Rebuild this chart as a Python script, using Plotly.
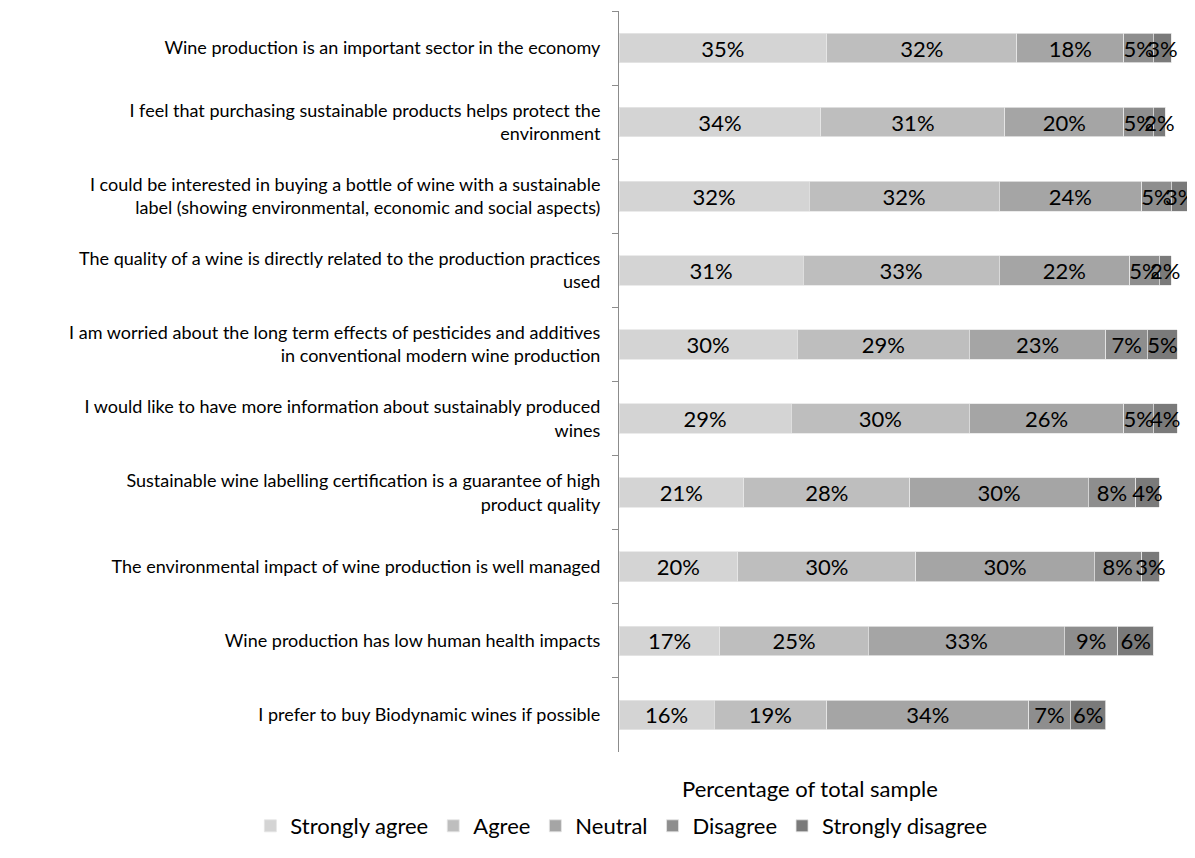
import plotly.graph_objects as go

statements = [
    "Wine production is an important sector in the economy",
    "I feel that purchasing sustainable products helps protect the<br>environment",
    "I could be interested in buying a bottle of wine with a sustainable<br>label (showing environmental, economic and social aspects)",
    "The quality of a wine is directly related to the production practices<br>used",
    "I am worried about the long term effects of pesticides and additives<br>in conventional modern wine production",
    "I would like to have more information about sustainably produced<br>wines",
    "Sustainable wine labelling certification is a guarantee of high<br>product quality",
    "The environmental impact of wine production is well managed",
    "Wine production has low human health impacts",
    "I prefer to buy Biodynamic wines if possible",
]

strongly_agree = [35, 34, 32, 31, 30, 29, 21, 20, 17, 16]
agree = [32, 31, 32, 33, 29, 30, 28, 30, 25, 19]
neutral = [18, 20, 24, 22, 23, 26, 30, 30, 33, 34]
disagree = [5, 5, 5, 5, 7, 5, 8, 8, 9, 7]
strongly_disagree = [3, 2, 3, 2, 5, 4, 4, 3, 6, 6]

series_names = ["Strongly agree", "Agree", "Neutral", "Disagree", "Strongly disagree"]
series_values = [strongly_agree, agree, neutral, disagree, strongly_disagree]
colors = ["#d4d4d4", "#bebebe", "#a5a5a5", "#8e8e8e", "#7a7a7a"]

FONT = "Lato"

fig = go.Figure()
for name, vals, col in zip(series_names, series_values, colors):
    fig.add_trace(go.Bar(
        y=statements,
        x=vals,
        name=name,
        orientation="h",
        marker=dict(color=col, line=dict(color="#e6e6e6", width=0.8)),
        text=[f"{v}%" for v in vals],
        textposition="inside",
        insidetextanchor="middle",
        textangle=0,
        textfont=dict(family=FONT, size=22, color="#000000"),
        cliponaxis=False,
        hoverinfo="skip",
    ))

fig.update_layout(
    width=1195,
    height=858,
    barmode="stack",
    bargap=0.6,
    plot_bgcolor="white",
    paper_bgcolor="white",
    margin=dict(l=611, r=8, t=3, b=114),
    uniformtext=dict(minsize=22, mode="show"),
    font=dict(family=FONT, size=18, color="#000000"),
    legend=dict(
        orientation="h",
        x=-0.64, xanchor="left",
        y=-0.0999, yanchor="middle",
        traceorder="normal",
        font=dict(family=FONT, size=22, color="#000000"),
    ),
    annotations=[dict(
        text="Percentage of total sample",
        xref="paper", yref="paper",
        x=0.3316, y=-0.0495,
        xanchor="center", yanchor="middle",
        showarrow=False,
        font=dict(family=FONT, size=22, color="#000000"),
    )],
)

fig.update_xaxes(
    range=[0, 97],
    showticklabels=False,
    showgrid=False,
    zeroline=False,
    showline=False,
    ticks="",
)
fig.update_yaxes(
    categoryorder="array",
    categoryarray=statements,
    autorange="reversed",
    showline=True,
    linecolor="#8c8c8c",
    linewidth=1,
    ticks="outside",
    tickson="boundaries",
    ticklen=6,
    tickcolor="#8c8c8c",
    showgrid=False,
    ticklabelstandoff=14,
    tickfont=dict(family=FONT, size=18, color="#000000"),
)

fig.write_html("out.html")
